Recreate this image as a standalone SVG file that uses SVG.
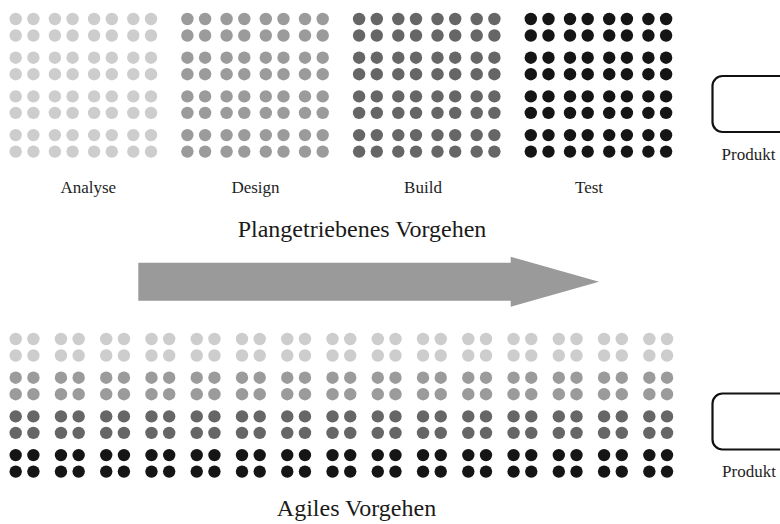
<svg xmlns="http://www.w3.org/2000/svg" xmlns:xlink="http://www.w3.org/1999/xlink" width="780" height="524" viewBox="0 0 780 524">
  <style>
    .lbl { font-family: "Liberation Serif", "Times New Roman", serif; font-size: 17px; fill: #1e1e1e; text-anchor: middle; }
    .title { font-family: "Liberation Serif", "Times New Roman", serif; font-size: 24px; fill: #1a1a1a; text-anchor: middle; }
    .product { fill: #ffffff; stroke: #111111; stroke-width: 2.2; }
    .c1 { fill: #cdcdcd; }
    .c2 { fill: #9b9b9b; }
    .c3 { fill: #666666; }
    .c4 { fill: #151515; }
  </style>
  <defs>
    <!-- two dots side by side -->
    <g id="dotPair">
      <circle cx="0" cy="0" r="6.2"/>
      <circle cx="17.7" cy="0" r="6.2"/>
    </g>
    <!-- one row of a phase block: four pairs -->
    <g id="row8">
      <use xlink:href="#dotPair" x="0"/>
      <use xlink:href="#dotPair" x="39.2"/>
      <use xlink:href="#dotPair" x="78.4"/>
      <use xlink:href="#dotPair" x="117.6"/>
    </g>
    <!-- 8 x 8 dot block for one phase -->
    <g id="block">
      <use xlink:href="#row8" y="0"/>
      <use xlink:href="#row8" y="16.5"/>
      <use xlink:href="#row8" y="38.7"/>
      <use xlink:href="#row8" y="55.2"/>
      <use xlink:href="#row8" y="77.4"/>
      <use xlink:href="#row8" y="93.9"/>
      <use xlink:href="#row8" y="116.1"/>
      <use xlink:href="#row8" y="132.6"/>
    </g>
    <!-- 2 x 2 dot cluster used by the iterations -->
    <g id="quad">
      <use xlink:href="#dotPair" y="0"/>
      <use xlink:href="#dotPair" y="16.5"/>
    </g>
    <!-- one band of 15 iterations -->
    <g id="band">
      <use xlink:href="#quad" x="0"/>
      <use xlink:href="#quad" x="45.26"/>
      <use xlink:href="#quad" x="90.52"/>
      <use xlink:href="#quad" x="135.78"/>
      <use xlink:href="#quad" x="181.04"/>
      <use xlink:href="#quad" x="226.3"/>
      <use xlink:href="#quad" x="271.56"/>
      <use xlink:href="#quad" x="316.82"/>
      <use xlink:href="#quad" x="362.08"/>
      <use xlink:href="#quad" x="407.34"/>
      <use xlink:href="#quad" x="452.6"/>
      <use xlink:href="#quad" x="497.86"/>
      <use xlink:href="#quad" x="543.12"/>
      <use xlink:href="#quad" x="588.38"/>
      <use xlink:href="#quad" x="633.64"/>
    </g>
  </defs>

  <rect width="780" height="524" fill="#ffffff"/>

  <!-- plan-driven phases -->
  <g id="analyse">
    <use xlink:href="#block" x="15.7" y="19" class="c1"/>
    <text class="lbl" x="88.3" y="192.7">Analyse</text>
  </g>
  <g id="design">
    <use xlink:href="#block" x="187.4" y="19" class="c2"/>
    <text class="lbl" x="255.5" y="192.7">Design</text>
  </g>
  <g id="build">
    <use xlink:href="#block" x="359.1" y="19" class="c3"/>
    <text class="lbl" x="423" y="192.7">Build</text>
  </g>
  <g id="test">
    <use xlink:href="#block" x="530.8" y="19" class="c4"/>
    <text class="lbl" x="589" y="192.7">Test</text>
  </g>
  <g id="produkt-plan">
    <rect class="product" x="712.5" y="76" width="90" height="56" rx="10"/>
    <text class="lbl" x="748.5" y="160">Produkt</text>
  </g>
  <text id="title-plan" class="title" x="362" y="237">Plangetriebenes Vorgehen</text>

  <!-- transition arrow -->
  <g id="connectors">
    <polygon points="138.3,262.7 510.7,262.7 510.7,256.7 599,281.7 510.7,306.7 510.7,300.7 138.3,300.7" fill="#9a9a9a"/>
  </g>

  <!-- agile iterations -->
  <g id="iterationen">
    <use xlink:href="#band" x="15.7" y="339" class="c1"/>
    <use xlink:href="#band" x="15.7" y="377.7" class="c2"/>
    <use xlink:href="#band" x="15.7" y="416.4" class="c3"/>
    <use xlink:href="#band" x="15.7" y="455.1" class="c4"/>
  </g>
  <g id="produkt-agil">
    <rect class="product" x="712.5" y="393.5" width="90" height="56" rx="10"/>
    <text class="lbl" x="749" y="476.7">Produkt</text>
  </g>
  <text id="title-agil" class="title" x="356.5" y="516">Agiles Vorgehen</text>
</svg>
